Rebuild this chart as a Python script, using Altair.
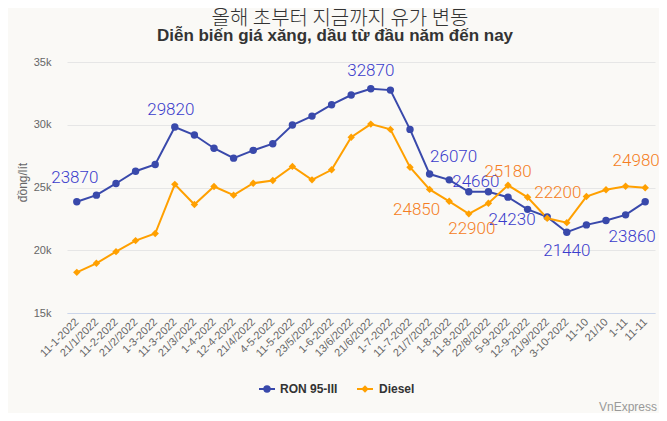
import altair as alt
import pandas as pd

dates = ["11-1-2022", "21/1/2022", "11-2-2022", "21/2/2022", "1-3-2022", "11-3-2022",
         "21/3/2022", "1-4-2022", "12-4-2022", "21/4/2022", "4-5-2022", "11-5-2022",
         "23/5/2022", "1-6-2022", "13/6/2022", "21/6/2022", "1-7-2022", "11-7-2022",
         "21/7/2022", "1-8-2022", "11-8-2022", "22/8/2022", "5-9-2022", "12-9-2022",
         "21/9/2022", "3-10-2022", "11-10", "21/10", "1-11", "11-11"]
ron95 = [23870, 24390, 25320, 26300, 26830, 29820, 29180, 28130, 27340, 27960,
         28490, 29980, 30690, 31600, 32370, 32870, 32760, 29630, 26070, 25610,
         24660, 24660, 24230, 23260, 22660, 21440, 22020, 22370, 22820, 23860]
diesel = [18240, 18960, 19890, 20770, 21330, 25250, 23640, 25080, 24390, 25340,
          25560, 26680, 25610, 26410, 29010, 30050, 29630, 26620, 24850, 23900,
          22900, 23750, 25180, 24220, 22550, 22200, 24280, 24820, 25100, 24980]
series_names = ["RON 95-III", "Diesel"]
title_ko = "올해 초부터 지금까지 유가 변동"
title_vi = "Diễn biến giá xăng, dầu từ đầu năm đến nay"
y_title = "đồng/lít"
credit = "VnExpress"

BLUE = "#3949ab"
ORANGE = "#ffa000"
BLUE_LBL = "#3a3ccc"
ORANGE_LBL = "#f57d22"

rows = []
for i, d in enumerate(dates):
    rows.append({"date": d, "idx": i, "series": series_names[0], "value": ron95[i]})
    rows.append({"date": d, "idx": i, "series": series_names[1], "value": diesel[i]})
df = pd.DataFrame(rows)

color_scale = alt.Scale(domain=series_names, range=[BLUE, ORANGE])
shape_scale = alt.Scale(domain=series_names, range=["circle", "diamond"])

x_enc = alt.X("date:N", sort=dates, scale=alt.Scale(type="point", padding=0.5),
              axis=alt.Axis(title=None, labelAngle=-45, labelAlign="right",
                            labelBaseline="middle", labelFontSize=11,
                            labelColor="#666666", labelFont="Liberation Sans",
                            labelPadding=7, ticks=False, domainColor="#ccd6eb",
                            domainWidth=1, grid=False, labelOverlap=False))
y_enc = alt.Y("value:Q", scale=alt.Scale(domain=[15000, 35000], nice=False),
              axis=alt.Axis(values=[15000, 20000, 25000, 30000, 35000], format="~s",
                            title=y_title, titleAngle=-90, titleX=-45, titleY=120,
                            titleAlign="center", titleBaseline="middle",
                            titleFontSize=12, titleFontWeight="normal",
                            titleColor="#666666", titleFont="Liberation Sans",
                            labelFontSize=11, labelColor="#666666",
                            labelFont="Liberation Sans", labelPadding=16,
                            ticks=False, domain=False, gridColor="#e6e6e6"))

base = alt.Chart(df)
lines = base.mark_line(strokeWidth=2).encode(
    x=x_enc, y=y_enc,
    color=alt.Color("series:N", scale=color_scale, legend=None),
    detail="series:N")
points = base.mark_point(filled=True, opacity=1, size=55).encode(
    x=alt.X("date:N", sort=dates), y="value:Q",
    color=alt.Color("series:N", scale=color_scale, legend=None),
    shape=alt.Shape("series:N", scale=shape_scale, legend=None))

label_specs = [
    (0, 0, -2, -24), (0, 5, -4, -17), (0, 15, 0, -18), (0, 18, 24, -17),
    (0, 20, 7, -10), (0, 22, 4, 23), (0, 25, 0, 19), (0, 29, -13, 35),
    (1, 18, -13, 21), (1, 20, 3, 15), (1, 22, 0, -13), (1, 25, -9, -30),
    (1, 29, -9, -27),
]
label_layers = []
for s, i, dx, dy in label_specs:
    name = series_names[s]
    label_layers.append(
        base.transform_filter((alt.datum.series == name) & (alt.datum.idx == i))
        .mark_text(dx=dx, dy=dy, fontSize=17, font="Roboto",
                   fontWeight=300, align="center", baseline="middle",
                   color=BLUE_LBL if s == 0 else ORANGE_LBL)
        .encode(x=alt.X("date:N", sort=dates), y="value:Q", text=alt.Text("value:Q", format="d")))

tdf = pd.DataFrame({"ko": [title_ko], "vi": [title_vi], "credit": [credit], "yt": [y_title]})
title1 = alt.Chart(tdf).mark_text(font="Noto Sans CJK KR", fontSize=20, fontWeight=300,
                                  color="#333333", align="center", baseline="middle").encode(
    x=alt.value(273), y=alt.value(-43), text="ko:N")
title2 = alt.Chart(tdf).mark_text(font="Liberation Sans", fontSize=17, fontWeight="bold",
                                  color="#333333", align="center", baseline="alphabetic").encode(
    x=alt.value(268), y=alt.value(-21), text="vi:N")
credit_t = alt.Chart(tdf).mark_text(font="Liberation Sans", fontSize=12, color="#999999",
                                    align="right", baseline="middle").encode(
    x=alt.value(590), y=alt.value(345), text="credit:N")

ldf = pd.DataFrame({"series": series_names})
legend_layers = []
leg_pos = [(192, 208, 200, 213), (290, 306, 298, 312)]
for k, name in enumerate(series_names):
    x1, x2, xm, xt = leg_pos[k]
    sub = alt.Chart(ldf).transform_filter(alt.datum.series == name)
    legend_layers.append(sub.mark_rule(strokeWidth=2, color=[BLUE, ORANGE][k]).encode(
        x=alt.value(x1), x2=alt.value(x2), y=alt.value(327)))
    legend_layers.append(sub.mark_point(filled=True, opacity=1, size=55,
                                        shape=["circle", "diamond"][k],
                                        color=[BLUE, ORANGE][k]).encode(
        x=alt.value(xm), y=alt.value(327)))
    legend_layers.append(sub.mark_text(font="Liberation Sans", fontSize=12, fontWeight="bold",
                                       color="#333333", align="left", baseline="middle").encode(
        x=alt.value(xt), y=alt.value(327), text="series:N"))

chart = alt.layer(lines, points, *label_layers, title1, title2, credit_t, *legend_layers).properties(
    width=588, height=251,
    autosize=alt.AutoSizeParams(type="none"),
    padding={"left": 59, "top": 54, "right": 4, "bottom": 100},
    background="#faf9f6",
).configure_view(stroke=None)

chart.save("out.html", embed_options={"renderer": "svg", "actions": False})
